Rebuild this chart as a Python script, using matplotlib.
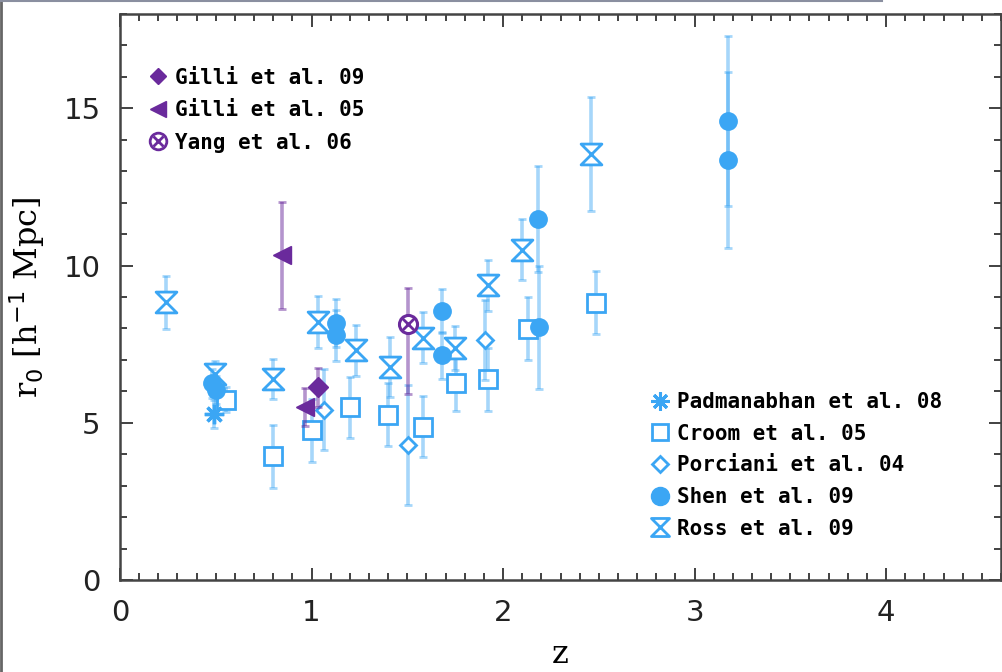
import matplotlib
matplotlib.use("Agg")
import matplotlib.pyplot as plt
from matplotlib.path import Path
from matplotlib.lines import Line2D
from matplotlib.legend_handler import HandlerTuple
from matplotlib.ticker import MultipleLocator
import numpy as np

# ---------------- data ----------------
padm_z = [0.49]
padm_r = [5.27]
padm_e = [0.45]

croom_z = [0.555, 0.80, 1.005, 1.20, 1.40, 1.58, 1.755, 1.92, 2.13, 2.483]
croom_r = [5.73, 3.93, 4.76, 5.50, 5.26, 4.87, 6.25, 6.38, 7.99, 8.82]
croom_e = [0.40, 1.00, 1.00, 0.97, 1.00, 0.97, 0.88, 1.00, 1.00, 1.00]

porc_z = [1.064, 1.504, 1.904]
porc_r = [5.42, 4.29, 7.62]
porc_e = [1.30, 1.90, 1.27]

shen_z = [0.48, 0.50, 1.13, 1.13, 1.68, 1.68, 2.182, 2.187, 3.173, 3.173]
shen_r = [6.25, 6.05, 8.17, 7.78, 8.55, 7.15, 11.48, 8.04, 14.60, 13.37]
shen_e = [0.45, 0.45, 0.77, 0.80, 0.70, 0.75, 1.69, 1.95, 2.70, 2.80]

ross_z = [0.238, 0.496, 0.80, 1.035, 1.231, 1.41, 1.582, 1.75, 1.921, 2.10, 2.46]
ross_r = [8.83, 6.55, 6.40, 8.20, 7.30, 6.77, 7.70, 7.38, 9.37, 10.50, 13.55]
ross_e = [0.85, 0.42, 0.63, 0.83, 0.81, 0.95, 0.81, 0.70, 0.80, 0.97, 1.80]

gilli09_z = [1.035]
gilli09_r = [6.13]
gilli09_e = [0.62]

gilli05_z = [0.847, 0.965]
gilli05_r = [10.32, 5.50]
gilli05_e = [1.70, 0.60]

yang_z = [1.504]
yang_r = [8.13]
yang_elo = [2.23]
yang_ehi = [1.16]

# ---------------- style ----------------
BLUE = "#3BA6F4"
PURPLE = "#6A2A9C"
hourglass = Path([(-1, 1), (1, 1), (-1, -1), (1, -1), (-1, 1)],
                 [Path.MOVETO, Path.LINETO, Path.LINETO, Path.LINETO, Path.CLOSEPOLY])

fig = plt.figure(figsize=(10.03, 6.72), dpi=100)
ax = fig.add_axes([120 / 1003, 1 - 580 / 672, 881 / 1003, 566 / 672])

ekw = dict(ls="none", elinewidth=2.6, capsize=3, capthick=2.0)

def eb(z, r, e, color, alpha=0.45, **mk):
    ebar = ax.errorbar(z, r, yerr=e, ecolor=color, **ekw)
    for art in list(ebar[1]) + list(ebar[2]):
        art.set_alpha(alpha)
    ax.plot(z, r, ls="none", color=color, **mk)

eb(croom_z, croom_r, croom_e, BLUE, marker="s", ms=12.5, mfc="white", mec=BLUE, mew=2.0)
eb(porc_z, porc_r, porc_e, BLUE, marker="D", ms=8.5, mfc="white", mec=BLUE, mew=2.0)
eb(ross_z, ross_r, ross_e, BLUE, marker=hourglass, ms=15, mfc="white", mec=BLUE, mew=2.0)
eb(padm_z, padm_r, padm_e, BLUE, marker=(8, 2, 0), ms=14, mec=BLUE, mew=2.4)
eb(shen_z, shen_r, shen_e, BLUE, marker="o", ms=12.5, mfc=BLUE, mec=BLUE)
eb(gilli05_z, gilli05_r, gilli05_e, PURPLE, alpha=0.5, marker="<", ms=13, mfc=PURPLE, mec=PURPLE)
eb(gilli09_z, gilli09_r, gilli09_e, PURPLE, alpha=0.5, marker="D", ms=10.5, mfc=PURPLE, mec=PURPLE)
yb = ax.errorbar(yang_z, yang_r, yerr=[yang_elo, yang_ehi], ecolor=PURPLE, **ekw)
for art in list(yb[1]) + list(yb[2]):
    art.set_alpha(0.5)
ax.plot(yang_z, yang_r, ls="none", marker="o", ms=13, mfc="white", mec=PURPLE, mew=2.2)
ax.plot(yang_z, yang_r, ls="none", marker="x", ms=8, mec=PURPLE, mew=2.0)

# ---------------- axes ----------------
ax.set_xlim(0, 4.6)
ax.set_ylim(0, 18)
ax.xaxis.set_major_locator(MultipleLocator(1))
ax.xaxis.set_minor_locator(MultipleLocator(0.1))
ax.yaxis.set_major_locator(MultipleLocator(5))
ax.yaxis.set_minor_locator(MultipleLocator(1))
ax.tick_params(which="both", direction="in", top=True, right=True, color="#333333", width=1.3)
ax.tick_params(which="major", length=9, labelsize=21, pad=14, labelcolor="#222222")
ax.tick_params(which="minor", length=5)
for s in ax.spines.values():
    s.set_linewidth(1.8)
    s.set_color("#444444")

ax.set_ylabel(r"r$_0$ [h$^{-1}$ Mpc]", fontsize=23, family="DejaVu Serif", labelpad=12)
ax.set_xlabel("z", fontsize=23, family="DejaVu Serif", labelpad=8)

# ---------------- legends ----------------
lfont = dict(family="DejaVu Sans Mono", weight="bold", size=15)

h_g09 = Line2D([], [], ls="none", marker="D", ms=8, color=PURPLE)
h_g05 = Line2D([], [], ls="none", marker="<", ms=11, color=PURPLE)
h_yc = Line2D([], [], ls="none", marker="o", ms=12, mfc="white", mec=PURPLE, mew=2)
h_yx = Line2D([], [], ls="none", marker="x", ms=7, mec=PURPLE, mew=2)
leg1 = ax.legend([h_g09, h_g05, (h_yc, h_yx)], ["Gilli et al. 09", "Gilli et al. 05", "Yang et al. 06"],
                 handler_map={tuple: HandlerTuple(ndivide=1, pad=0)},
                 loc="upper left", bbox_to_anchor=(0.022, 0.92), frameon=False, prop=lfont,
                 handlelength=1.0, handletextpad=0.3, labelspacing=0.6, borderaxespad=0)
ax.add_artist(leg1)

h_p = Line2D([], [], ls="none", marker=(8, 2, 0), ms=13, mec=BLUE, mew=2.2)
h_c = Line2D([], [], ls="none", marker="s", ms=12, mfc="white", mec=BLUE, mew=2)
h_po = Line2D([], [], ls="none", marker="D", ms=8, mfc="white", mec=BLUE, mew=2)
h_s = Line2D([], [], ls="none", marker="o", ms=13, color=BLUE)
h_r = Line2D([], [], ls="none", marker=hourglass, ms=13, mfc="white", mec=BLUE, mew=2)
ax.legend([h_p, h_c, h_po, h_s, h_r],
          ["Padmanabhan et al. 08", "Croom et al. 05", "Porciani et al. 04", "Shen et al. 09", "Ross et al. 09"],
          loc="upper left", bbox_to_anchor=(0.592, 0.347), frameon=False, prop=lfont,
          handlelength=1.0, handletextpad=0.3, labelspacing=0.56, borderaxespad=0)

# screenshot frame edges
fig.add_artist(Line2D([0.001, 0.001], [0, 1], transform=fig.transFigure, color="#666666", lw=2))
fig.add_artist(Line2D([0, 882 / 1003], [0.999, 0.999], transform=fig.transFigure, color="#8a8fa0", lw=1.5))

fig.savefig("out.png", dpi=100)
